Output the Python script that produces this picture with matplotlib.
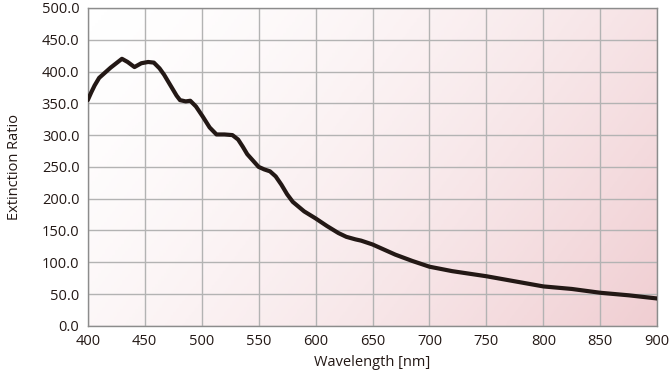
import numpy as np
import matplotlib.pyplot as plt
from matplotlib.colors import LinearSegmentedColormap

plt.rcParams['font.family'] = ['Open Sans', 'DejaVu Sans']

# values
wavelength = [400, 403, 406, 410, 415, 420, 425, 430, 435, 441, 447, 453, 458, 463, 467,
              470, 474, 478, 481, 486, 490, 495, 501, 507, 513, 520, 527, 532, 536, 540,
              545, 550, 555, 560, 565, 570, 575, 580, 590, 600, 610, 620, 627, 635, 640,
              650, 660, 670, 685, 700, 720, 750, 775, 800, 825, 850, 875, 900]
extinction = [355, 367, 378, 390, 398, 406, 413, 420, 415, 407, 413, 415, 414, 405, 395,
              386, 374, 362, 355, 353, 354, 345, 329, 312, 301, 301, 300, 293, 282, 270,
              260, 250, 246, 243, 235, 222, 207, 195, 180, 169, 157, 146, 140, 136, 134,
              128, 120, 112, 102, 93, 86, 78, 70, 62, 58, 52, 48, 43]

xticks = np.arange(400, 901, 50)
yticks = np.arange(0, 501, 50)

fig = plt.figure(figsize=(6.7, 3.78), dpi=100)
ax = fig.add_axes([0.131, 0.138, 0.850, 0.841])

# white (top left) -> pink (bottom right) background
cmap = LinearSegmentedColormap.from_list('bg', ['#ffffff', '#f0ced2'])
gx, gy = np.meshgrid(np.linspace(0, 1, 200), np.linspace(0, 1, 200))
grad = (0.7 * gx + 0.3 * gy) ** 1.5
ax.imshow(grad, cmap=cmap, vmin=0, vmax=1, extent=[0, 1, 0, 1], transform=ax.transAxes,
          aspect='auto', origin='upper', zorder=0)

ax.plot(wavelength, extinction, color='#231815', linewidth=3.0, zorder=3,
        solid_capstyle='round', solid_joinstyle='round')

ax.set_xlim(400, 900)
ax.set_ylim(0, 500)
ax.set_xticks(xticks)
ax.set_yticks(yticks)
ax.set_yticklabels([f'{v:.1f}' for v in yticks])
ax.grid(True, color='#b3b3b3', linewidth=1.0, zorder=1)
ax.set_axisbelow(True)
ax.tick_params(length=0, labelsize=10.5, colors='#231815', pad=6)
for s in ax.spines.values():
    s.set_color('#8c8c8c')
    s.set_linewidth(1.0)

ax.set_xlabel('Wavelength [nm]', fontsize=10.5, color='#231815', labelpad=4)
ax.set_ylabel('Extinction Ratio', fontsize=10.5, color='#231815', labelpad=14)

fig.savefig('out.png', dpi=100)
